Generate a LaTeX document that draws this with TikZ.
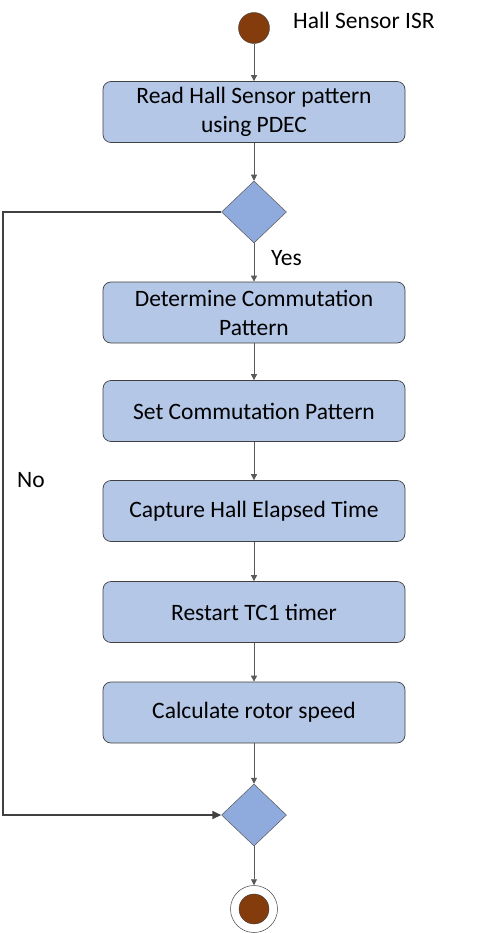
\documentclass[tikz,border=0pt]{standalone}
\usepackage{fontspec}
\setmainfont{Carlito}
\usetikzlibrary{shapes.geometric,arrows.meta}
\definecolor{boxfill}{HTML}{B4C7E7}
\definecolor{dfill}{HTML}{8FAADC}
\definecolor{brown}{HTML}{843C0C}
\definecolor{lgray}{HTML}{595959}
\definecolor{dgray}{HTML}{404040}
\begin{document}
\begin{tikzpicture}[x=1pt,y=-1pt,
  every node/.style={font=\fontsize{23.5}{29}\selectfont},
  stepbox/.style={draw=dgray,fill=boxfill,rounded corners=8pt,minimum width=302pt,minimum height=61pt,align=center,inner sep=0pt,line width=0.7pt},
  dec/.style={diamond,draw=lgray,fill=dfill,minimum width=65pt,minimum height=62pt,inner sep=0pt,line width=0.5pt},
  flow/.style={draw=lgray,line width=0.7pt,-{Triangle[length=6pt,width=6pt]}},
  loop/.style={draw=dgray,line width=1.8pt,-{Triangle[length=9pt,width=8pt]}}]
\useasboundingbox (0,0) rectangle (485,933);
\node[circle,fill=brown,draw=dgray,line width=0.4pt,minimum size=31pt,inner sep=0pt] (start) at (254,28) {};
\node[anchor=base west,inner sep=0pt] (title) at (293,29) {Hall Sensor ISR};
\node[stepbox] (b1) at (254,112) {Read Hall Sensor pattern\\using PDEC};
\node[dec] (d1) at (254,212) {};
\node[stepbox] (b2) at (254,312.5) {Determine Commutation\\Pattern};
\node[stepbox] (b3) at (254,411) {Set Commutation Pattern};
\node[stepbox] (b4) at (254,511) {Capture Hall Elapsed Time};
\node[stepbox] (b5) at (254,612) {Restart TC1 timer};
\node[stepbox] (b6) at (254,712.5) {Calculate rotor speed};
\node[dec] (d2) at (254,815) {};
\node[circle,draw=dgray,line width=0.5pt,minimum size=47pt,inner sep=0pt] (endo) at (254,909) {};
\node[circle,fill=brown,draw=dgray,line width=0.4pt,minimum size=30pt,inner sep=0pt] (endi) at (254,909) {};
\node[anchor=base west,inner sep=0pt] (yes) at (271,265) {Yes};
\node[anchor=base west,inner sep=0pt] (no) at (17,487) {No};
\coordinate (c1) at (3,212);
\coordinate (c2) at (3,815);
\draw[flow] (start) -- (b1);
\draw[flow] (b1) -- (d1);
\draw[flow] (d1) -- (b2);
\draw[flow] (b2) -- (b3);
\draw[flow] (b3) -- (b4);
\draw[flow] (b4) -- (b5);
\draw[flow] (b5) -- (b6);
\draw[flow] (b6) -- (d2);
\draw[flow] (d2) -- (endo);
\draw[loop] (d1.west) -- (c1) -- (c2) -- (d2.west);
\end{tikzpicture}
\end{document}
